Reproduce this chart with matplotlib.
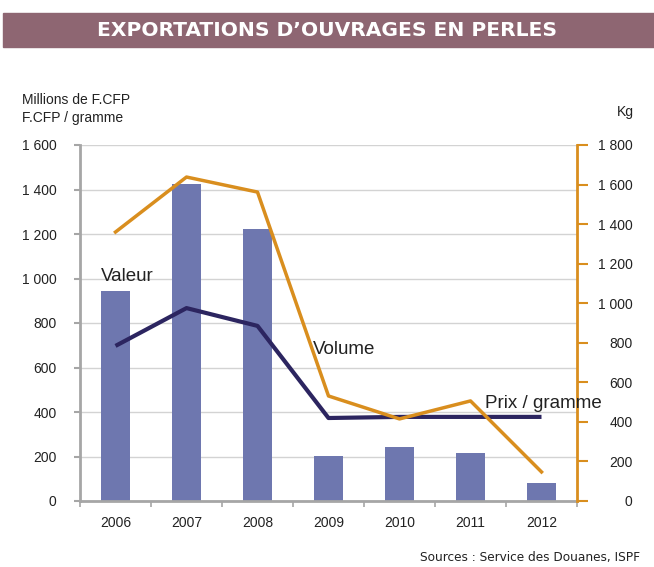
import numpy as np
import matplotlib.pyplot as plt
from matplotlib.patches import Rectangle
from matplotlib.ticker import FuncFormatter

# Données
annees = ['2006', '2007', '2008', '2009', '2010', '2011', '2012']
valeur = [944, 1425, 1222, 202, 243, 216, 81]          # Millions de F.CFP
prix_gramme = [697, 867, 787, 373, 378, 378, 378]      # F.CFP / gramme
volume = [1360, 1638, 1562, 531, 415, 506, 147]        # Kg

bar_color = '#6E77AF'
navy = '#2C2560'
orange = '#D98E1E'
gray = '#A6A6A6'


def fmt_milliers(v, pos):
    return '{:,.0f}'.format(v).replace(',', ' ')


plt.rcParams['font.family'] = ['Liberation Sans', 'DejaVu Sans']

fig = plt.figure(figsize=(6.54, 5.67), dpi=100)

# Bandeau du titre
fig.patches.append(Rectangle((3 / 654, 1 - 47 / 567), 651 / 654, 34 / 567,
                             transform=fig.transFigure, color='#8E6672', zorder=0))
fig.text(0.5, 1 - 30 / 567, 'EXPORTATIONS D\u2019OUVRAGES EN PERLES', ha='center', va='center',
         color='white', fontsize=14.6, fontweight='bold', family='DejaVu Sans')

ax = fig.add_axes([80 / 654, 66 / 567, 497 / 654, 356 / 567])
x = np.arange(len(annees))

ax.bar(x, valeur, width=0.41, color=bar_color, zorder=2)
ax.plot(x, prix_gramme, color=navy, linewidth=3, zorder=4, solid_capstyle='butt')
ax.set_ylim(0, 1600)
ax.set_xlim(-0.5, len(annees) - 0.5)
ax.set_yticks(np.arange(0, 1601, 200))
ax.yaxis.set_major_formatter(FuncFormatter(fmt_milliers))
ax.grid(axis='y', color='#D3D3D3', linewidth=1, zorder=0)
ax.set_axisbelow(True)

ax.set_xticks(x)
ax.set_xticklabels(annees)
ax.set_xticks(np.arange(-0.5, len(annees)), minor=True)
ax.tick_params(axis='x', which='major', length=0, pad=11, labelsize=10, labelcolor='#222222')
ax.tick_params(axis='x', which='minor', length=4, color=gray, width=1.2)
ax.tick_params(axis='y', length=4, color=gray, width=1.5, pad=13, labelsize=10, labelcolor='#222222')

for s in ['top', 'right']:
    ax.spines[s].set_visible(False)
for s in ['left', 'bottom']:
    ax.spines[s].set_color(gray)
    ax.spines[s].set_linewidth(2)

ax2 = ax.twinx()
ax2.plot(x, volume, color=orange, linewidth=2.5, zorder=3)
ax2.set_ylim(0, 1800)
ax2.set_yticks(np.arange(0, 1801, 200))
ax2.yaxis.set_major_formatter(FuncFormatter(fmt_milliers))
ax2.tick_params(axis='y', length=8, color=orange, width=1.5, pad=32, labelsize=10, labelcolor='#222222')
for lab in ax2.get_yticklabels():
    lab.set_horizontalalignment('right')
for s in ['top', 'left', 'bottom']:
    ax2.spines[s].set_visible(False)
ax2.spines['right'].set_color(orange)
ax2.spines['right'].set_linewidth(2)

# Étiquettes des séries
ax2.text(-0.21, 1007 * 1800 / 1600, 'Valeur', fontsize=13.5, ha='left', va='center',
         color='#222222', zorder=6, clip_on=False)
ax2.text(2.78, 683 * 1800 / 1600, 'Volume', fontsize=13.5, ha='left', va='center',
         color='#222222', zorder=6, clip_on=False)
ax2.text(5.2, 440 * 1800 / 1600, 'Prix / gramme', fontsize=13.5, ha='left', va='center',
         color='#222222', zorder=6, clip_on=False)

# Titres des axes
fig.text(22 / 654, 1 - 100 / 567, 'Millions de F.CFP', fontsize=10, ha='left', va='center', color='#222222')
fig.text(22 / 654, 1 - 118 / 567, 'F.CFP / gramme', fontsize=10, ha='left', va='center', color='#222222')
fig.text(634 / 654, 1 - 112 / 567, 'Kg', fontsize=10, ha='right', va='center', color='#222222')

fig.text(640 / 654, 1 - 558 / 567, 'Sources : Service des Douanes, ISPF', fontsize=8.7,
         ha='right', va='center', color='#222222', family='DejaVu Sans')

plt.savefig('out.png', dpi=100)
